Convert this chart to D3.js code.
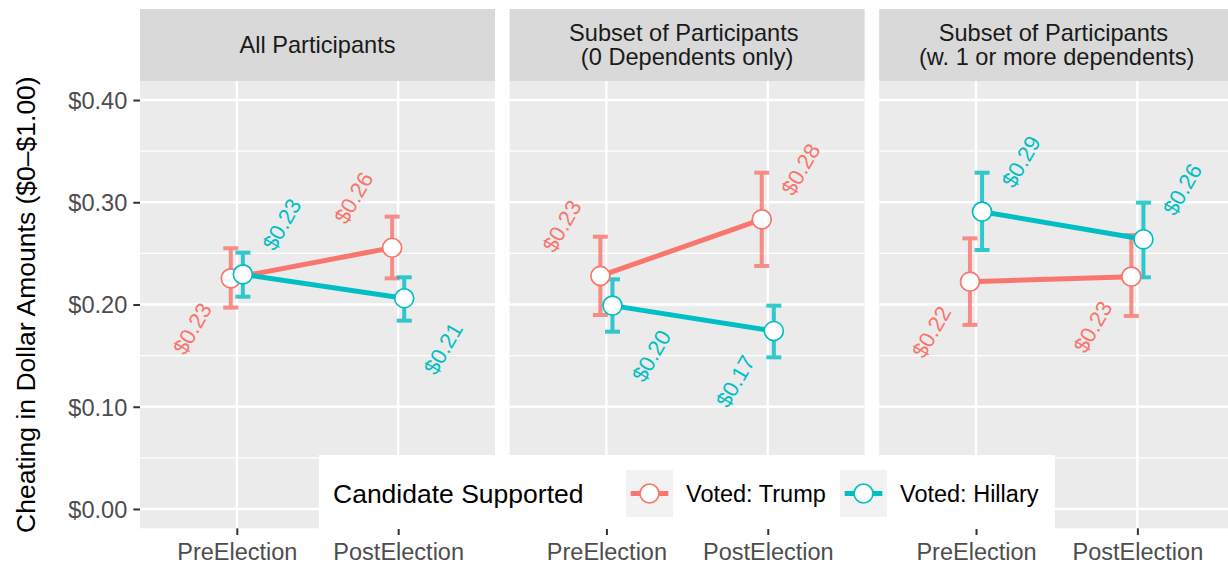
<!DOCTYPE html>
<html>
<head>
<meta charset="utf-8">
<script src="https://cdn.jsdelivr.net/npm/d3@7"></script>
<style>
  html, body { margin: 0; padding: 0; background: #fff; }
  svg { display: block; }
  text { font-family: "Liberation Sans", Arial, Helvetica, sans-serif; white-space: pre; }
</style>
</head>
<body>
<svg id="chart" width="1228" height="565"></svg>
<script>
// ---- data ----------------------------------------------------------------
const facets = [
  "All Participants",
  "Subset of Participants \n(0 Dependents only)",
  "Subset of Participants \n(w. 1 or more dependents)"
];
const phases = ["PreElection", "PostElection"];
const groups = ["Voted: Trump", "Voted: Hillary"];

// mean cheating amount per facet: [PreElection, PostElection]
const trumpMean    = [[0.2256, 0.2555], [0.2279, 0.2833], [0.2223, 0.2272]];
const trumpLower   = [[0.1970, 0.2256], [0.1897, 0.2377], [0.1800, 0.1888]];
const trumpUpper   = [[0.2550, 0.2859], [0.2663, 0.3289], [0.2647, 0.2680]];
const hillaryMean  = [[0.2295, 0.2061], [0.1989, 0.1741], [0.2908, 0.2638]];
const hillaryLower = [[0.2076, 0.1842], [0.1734, 0.1483], [0.2533, 0.2266]];
const hillaryUpper = [[0.2507, 0.2266], [0.2246, 0.1989], [0.3289, 0.2996]];

// which side each value label sits on: [x sign, y sign (+1 = above)]
const trumpLabelSide   = [[[-1, -1], [-1, 1]], [[-1, 1], [1, 1]], [[-1, -1], [-1, -1]]];
const hillaryLabelSide = [[[1, 1], [1, -1]], [[1, -1], [-1, -1]], [[1, 1], [1, 1]]];

const yTicks = [0, 0.1, 0.2, 0.3, 0.4];
const yMinor = [0.05, 0.15, 0.25, 0.35];

const colors = ["#F8766D", "#00BFC4"];

// ---- assemble series ----------------------------------------------------
const series = [
  { name: groups[0], color: colors[0], mean: trumpMean, lo: trumpLower, hi: trumpUpper, side: trumpLabelSide, dodge: -1 },
  { name: groups[1], color: colors[1], mean: hillaryMean, lo: hillaryLower, hi: hillaryUpper, side: hillaryLabelSide, dodge: 1 }
];

// ---- layout -------------------------------------------------------------
const svg = d3.select("#chart");
const W = 1228, H = 565;
const panelW = 355, gap = 14.6, panelLeft = 140;
const panelTop = 81, panelBottom = 528.3, stripTop = 9;
const fontMain = '"Liberation Sans", Arial, Helvetica, sans-serif';

svg.append("rect").attr("width", W).attr("height", H).attr("fill", "#fff");

const y = d3.scaleLinear().domain([-0.0189, 0.4186]).range([panelBottom, panelTop]);
const fmt = d3.format("$.2f");

facets.forEach((facet, fi) => {
  const x0 = panelLeft + fi * (panelW + gap);
  const x = d3.scalePoint().domain(phases).range([x0, x0 + panelW]).padding(0.6);
  const step = x.step();
  const dodge = 0.0375 * step;
  const nudgeX = 0.24 * step;
  const nudgeY = 0.049;

  const g = svg.append("g");

  // strip
  g.append("rect").attr("x", x0).attr("y", stripTop).attr("width", panelW)
    .attr("height", panelTop - stripTop).attr("fill", "#D9D9D9");
  const lines = facet.split("\n");
  const stripText = g.append("text").attr("text-anchor", "middle")
    .attr("font-size", 23.6).attr("fill", "#1A1A1A");
  lines.forEach((ln, li) => {
    const base = lines.length === 1 ? 53 : (li === 0 ? 41 : 65);
    stripText.append("tspan").attr("x", x0 + panelW / 2).attr("y", base).text(ln);
  });

  // panel background and grid
  g.append("rect").attr("x", x0).attr("y", panelTop).attr("width", panelW)
    .attr("height", panelBottom - panelTop).attr("fill", "#EBEBEB");
  g.selectAll(".minor").data(yMinor).join("line")
    .attr("x1", x0).attr("x2", x0 + panelW)
    .attr("y1", d => y(d)).attr("y2", d => y(d))
    .attr("stroke", "#fff").attr("stroke-width", 1.2);
  g.selectAll(".major").data(yTicks).join("line")
    .attr("x1", x0).attr("x2", x0 + panelW)
    .attr("y1", d => y(d)).attr("y2", d => y(d))
    .attr("stroke", "#fff").attr("stroke-width", 2.3);
  g.selectAll(".vmajor").data(phases).join("line")
    .attr("x1", d => x(d)).attr("x2", d => x(d))
    .attr("y1", panelTop).attr("y2", panelBottom)
    .attr("stroke", "#fff").attr("stroke-width", 2.3);

  // x axis ticks and labels
  const xAxis = d3.axisBottom(x).tickSize(6.7).tickPadding(6);
  const xg = svg.append("g").attr("transform", `translate(0,${panelBottom})`).call(xAxis);
  xg.select(".domain").remove();
  xg.selectAll(".tick line").attr("stroke", "#333").attr("stroke-width", 2);
  xg.selectAll(".tick text").attr("font-size", 23.5).attr("fill", "#4D4D4D")
    .attr("font-family", fontMain).attr("dy", null).attr("y", 31.7);

  const px = (s, pi) => x(phases[pi]) + s.dodge * dodge;

  // error bars
  series.forEach(s => {
    const eb = g.append("g").attr("stroke", s.color).attr("stroke-width", 4).attr("opacity", 0.8);
    phases.forEach((p, pi) => {
      const cx = px(s, pi);
      eb.append("line").attr("x1", cx).attr("x2", cx)
        .attr("y1", y(s.lo[fi][pi])).attr("y2", y(s.hi[fi][pi]));
      [s.lo[fi][pi], s.hi[fi][pi]].forEach(v => {
        eb.append("line").attr("x1", cx - 7.5).attr("x2", cx + 7.5)
          .attr("y1", y(v)).attr("y2", y(v));
      });
    });
  });

  // connecting lines
  const lineGen = d3.line();
  series.forEach(s => {
    g.append("path")
      .attr("d", lineGen(phases.map((p, pi) => [px(s, pi), y(s.mean[fi][pi])])))
      .attr("fill", "none").attr("stroke", s.color).attr("stroke-width", 5);
  });

  // points
  series.forEach(s => {
    g.selectAll(null).data(phases).join("circle")
      .attr("cx", (p, pi) => px(s, pi))
      .attr("cy", (p, pi) => y(s.mean[fi][pi]))
      .attr("r", 9.5).attr("fill", "#fff")
      .attr("stroke", s.color).attr("stroke-width", 1.7);
  });

  // value labels
  series.forEach(s => {
    phases.forEach((p, pi) => {
      const v = s.mean[fi][pi];
      const [sx, sy] = s.side[fi][pi];
      const lx = px(s, pi) + sx * nudgeX;
      const ly = y(v + sy * nudgeY);
      g.append("text")
        .attr("transform", `translate(${lx},${ly}) rotate(-60)`)
        .attr("text-anchor", "middle").attr("dy", "0.36em")
        .attr("font-size", 22).attr("fill", s.color)
        .text(fmt(v));
    });
  });
});

// y axis (left of first panel)
const yAxis = d3.axisLeft(y).tickValues(yTicks).tickFormat(d3.format("$.2f"))
  .tickSize(6.7).tickPadding(6);
const yg = svg.append("g").attr("transform", `translate(${panelLeft},0)`).call(yAxis);
yg.select(".domain").remove();
yg.selectAll(".tick line").attr("stroke", "#333").attr("stroke-width", 2);
yg.selectAll(".tick text").attr("font-size", 23.6).attr("fill", "#4D4D4D")
  .attr("font-family", fontMain).attr("dy", "0.36em");

// y axis title
svg.append("text")
  .attr("transform", `translate(35,${(panelTop + panelBottom) / 2}) rotate(-90)`)
  .attr("text-anchor", "middle").attr("font-size", 26.5).attr("fill", "#000")
  .text("Cheating in Dollar Amounts ($0\u2013$1.00)");

// legend
const lg = svg.append("g");
lg.append("rect").attr("x", 319).attr("y", 455).attr("width", 736).attr("height", 74).attr("fill", "#fff");
lg.append("text").attr("x", 333).attr("y", 503).attr("font-size", 26.5).attr("fill", "#000")
  .text("Candidate Supported");
const keyX = [626, 840];
series.forEach((s, i) => {
  const kx = keyX[i], ky = 470, ks = 47;
  lg.append("rect").attr("x", kx).attr("y", ky).attr("width", ks).attr("height", ks).attr("fill", "#F2F2F2");
  lg.append("line").attr("x1", kx + ks * 0.1).attr("x2", kx + ks * 0.9)
    .attr("y1", ky + ks / 2).attr("y2", ky + ks / 2)
    .attr("stroke", s.color).attr("stroke-width", 5);
  lg.append("circle").attr("cx", kx + ks / 2).attr("cy", ky + ks / 2).attr("r", 9.5)
    .attr("fill", "#fff").attr("stroke", s.color).attr("stroke-width", 1.7);
  lg.append("text").attr("x", kx + ks + 13).attr("y", 502).attr("font-size", 23.5).attr("fill", "#000")
    .text(s.name);
});
</script>
</body>
</html>
